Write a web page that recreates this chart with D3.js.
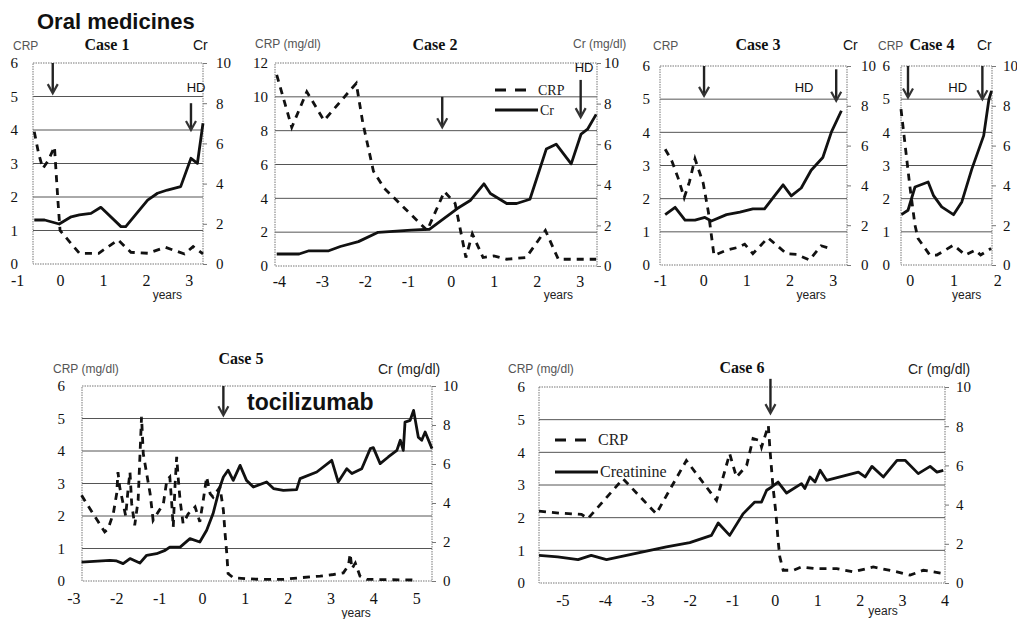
<!DOCTYPE html>
<html>
<head>
<meta charset="utf-8">
<script src="https://cdn.jsdelivr.net/npm/d3@7"></script>
<style>
  html, body { margin: 0; padding: 0; background: #fff; }
  svg { display: block; }
  .tick text { fill: #111; }
</style>
</head>
<body>
<script>
// ---- Series: [years from start of treatment, value] ----
const case1Crp = [[-0.6,3.95],[-0.5,3.3],[-0.4,2.85],[-0.27,3.1],[-0.13,3.5],[-0.1,2.9],[-0.05,1.9],[0.0,1.0],[0.45,0.32],[0.9,0.32],[1.35,0.72],[1.65,0.35],[2.05,0.32],[2.45,0.5],[2.9,0.3],[3.1,0.52],[3.33,0.3]];
const case1Cr  = [[-0.6,2.19],[-0.36,2.19],[-0.02,1.99],[0.26,2.35],[0.45,2.44],[0.72,2.52],[0.95,2.82],[1.42,1.86],[1.53,1.86],[2.04,3.18],[2.27,3.52],[2.5,3.68],[2.81,3.85],[3.05,5.26],[3.2,5.01],[3.33,7.0]];

const case2Crp = [[-4.05,11.3],[-3.7,8.2],[-3.35,10.3],[-2.95,8.6],[-2.2,10.8],[-2.05,8.5],[-1.8,5.6],[-1.55,4.6],[-0.55,2.1],[-0.15,4.4],[0.1,3.7],[0.35,0.5],[0.5,1.9],[0.75,0.5],[1.0,0.6],[1.3,0.4],[1.75,0.5],[2.2,2.1],[2.5,0.4],[3.38,0.4]];
const case2Cr  = [[-4.05,0.59],[-3.53,0.59],[-3.3,0.75],[-2.84,0.75],[-2.57,0.96],[-2.15,1.2],[-1.69,1.66],[-0.92,1.77],[-0.5,1.81],[0.15,2.83],[0.46,3.24],[0.77,4.05],[0.92,3.57],[1.3,3.08],[1.53,3.08],[1.84,3.29],[2.22,5.76],[2.45,6.0],[2.8,5.03],[3.03,6.5],[3.18,6.74],[3.38,7.47]];

const case3Crp = [[-0.88,3.49],[-0.73,3.15],[-0.58,2.62],[-0.44,2.03],[-0.32,2.5],[-0.19,3.2],[0.0,2.47],[0.12,1.6],[0.25,0.29],[0.55,0.45],[0.8,0.53],[0.96,0.63],[1.15,0.34],[1.5,0.82],[1.93,0.34],[2.16,0.32],[2.46,0.15],[2.73,0.58],[2.97,0.49]];
const case3Cr  = [[-0.88,2.53],[-0.65,2.9],[-0.42,2.26],[-0.19,2.26],[0.04,2.39],[0.19,2.21],[0.54,2.53],[0.85,2.66],[1.15,2.82],[1.42,2.82],[1.62,3.39],[1.85,4.03],[2.04,3.47],[2.27,3.87],[2.5,4.76],[2.77,5.4],[2.97,6.69],[3.2,7.75]];

const case4Crp = [[-0.2,4.7],[0.0,2.4],[0.12,1.2],[0.19,0.8],[0.46,0.3],[0.62,0.3],[1.0,0.6],[1.27,0.3],[1.5,0.45],[1.62,0.3],[1.86,0.5]];
const case4Cr  = [[-0.19,2.53],[-0.04,2.75],[0.12,3.92],[0.42,4.17],[0.54,3.5],[0.73,2.92],[1.0,2.53],[1.19,3.17],[1.42,4.83],[1.69,6.5],[1.81,8.33],[1.87,8.75]];

const case5Crp = [[-2.81,2.64],[-2.69,2.38],[-2.54,2.07],[-2.42,1.82],[-2.27,1.51],[-2.19,1.61],[-2.07,2.07],[-1.99,2.69],[-1.96,3.35],[-1.92,2.89],[-1.84,2.38],[-1.78,2.0],[-1.72,2.89],[-1.68,3.35],[-1.64,2.38],[-1.57,1.71],[-1.49,2.48],[-1.41,5.05],[-1.37,3.92],[-1.29,3.3],[-1.21,2.69],[-1.14,1.87],[-0.9,2.38],[-0.82,3.1],[-0.75,3.2],[-0.71,2.48],[-0.67,1.66],[-0.63,2.89],[-0.59,3.82],[-0.55,3.1],[-0.51,2.48],[-0.44,1.77],[-0.32,2.07],[-0.16,2.28],[-0.05,1.82],[0.03,2.48],[0.11,3.2],[0.19,2.69],[0.26,2.58],[0.34,2.74],[0.42,2.89],[0.5,2.18],[0.54,1.46],[0.58,0.84],[0.61,0.23],[0.73,0.1],[1.04,0.07],[1.36,0.05],[1.9,0.05],[2.29,0.1],[2.76,0.15],[3.07,0.2],[3.3,0.25],[3.42,0.48],[3.46,0.84],[3.5,0.38],[3.58,0.55],[3.69,0.15],[3.85,0.05],[4.94,0.03]];
const case5Cr  = [[-2.81,0.97],[-2.15,1.06],[-1.99,1.03],[-1.84,0.89],[-1.68,1.15],[-1.45,0.92],[-1.29,1.32],[-1.06,1.4],[-0.86,1.57],[-0.75,1.74],[-0.51,1.74],[-0.28,2.17],[-0.05,2.0],[0.11,2.6],[0.26,3.46],[0.42,4.82],[0.5,5.33],[0.61,5.68],[0.73,5.16],[0.89,5.93],[1.04,5.16],[1.2,4.82],[1.51,5.08],[1.67,4.74],[1.9,4.65],[2.21,4.69],[2.29,5.25],[2.68,5.59],[3.03,6.19],[3.18,5.08],[3.38,5.76],[3.5,5.51],[3.73,5.76],[3.93,6.79],[4.0,6.84],[4.16,6.02],[4.35,6.36],[4.55,6.7],[4.63,7.22],[4.7,6.7],[4.74,8.15],[4.86,8.24],[4.94,8.75],[5.05,7.38],[5.13,7.22],[5.21,7.64],[5.37,6.79]];

const case6Crp = [[-5.55,2.2],[-5.07,2.14],[-4.55,2.1],[-4.4,1.97],[-3.57,3.19],[-2.79,2.12],[-2.08,3.75],[-1.37,2.53],[-1.06,3.96],[-0.9,3.24],[-0.66,3.6],[-0.51,4.42],[-0.35,4.36],[-0.31,4.16],[-0.15,4.82],[-0.11,4.06],[-0.04,2.94],[0.03,2.12],[0.08,1.31],[0.12,0.8],[0.2,0.39],[0.44,0.39],[0.63,0.49],[0.95,0.44],[1.46,0.44],[1.85,0.34],[2.32,0.49],[2.88,0.34],[3.19,0.24],[3.5,0.39],[3.97,0.29]];
const case6Cr  = [[-5.55,1.41],[-5.11,1.33],[-4.63,1.19],[-4.32,1.41],[-3.96,1.19],[-3.49,1.41],[-3.02,1.63],[-2.55,1.84],[-2.0,2.06],[-1.49,2.43],[-1.33,3.06],[-1.06,2.43],[-0.74,3.54],[-0.47,4.13],[-0.31,4.13],[-0.19,4.73],[-0.07,4.9],[0.08,5.15],[0.28,4.59],[0.63,5.07],[0.71,4.82],[0.83,5.41],[0.95,5.15],[1.07,5.75],[1.22,5.24],[1.97,5.66],[2.13,5.41],[2.29,5.95],[2.56,5.41],[2.88,6.26],[3.07,6.26],[3.38,5.58],[3.66,5.95],[3.82,5.66],[3.97,5.75]];

// ---- Tick labels ----
const case1Years = [-1, 0, 1, 2, 3];
const case2Years = [-4, -3, -2, -1, 0, 1, 2, 3];
const case3Years = [-1, 0, 1, 2, 3];
const case4Years = [0, 1, 2];
const case5Years = [-3, -2, -1, 0, 1, 2, 3, 4, 5];
const case6Years = [-5, -4, -3, -2, -1, 0, 1, 2, 3, 4];
const crpTicks6  = [0, 1, 2, 3, 4, 5, 6];
const crpTicks12 = [0, 2, 4, 6, 8, 10, 12];
const crTicks    = [0, 2, 4, 6, 8, 10];

const SERIF = "'Liberation Serif', 'Times New Roman', Times, serif";
const SANS  = "'Liberation Sans', Arial, sans-serif";

const svg = d3.select("body").append("svg")
  .attr("width", 1017).attr("height", 619)
  .style("background", "#fff");

svg.append("text")
  .attr("x", 37).attr("y", 29)
  .style("font-family", SANS).style("font-weight", "bold")
  .style("font-size", "22px").attr("fill", "#111")
  .text("Oral medicines");

const panels = [
  { crp: case1Crp, cr: case1Cr, years: case1Years, crpTicks: crpTicks6, crpMax: 6,
    box: { l: 33, r: 203, t: 63, b: 264 }, xDomain: [-0.63, 3.33],
    lPad: 15, rPad: 9, xPad: 11,
    arrows: [[-0.17, 6.0, 5.1], [3.05, 4.8, 4.0]],
    hd: [2.95, 5.12], yearsAt: [2.5, 299] },
  { crp: case2Crp, cr: case2Cr, years: case2Years, crpTicks: crpTicks12, crpMax: 12,
    box: { l: 275, r: 597, t: 63, b: 266 }, xDomain: [-4.09, 3.4],
    lPad: 7, rPad: 3, xPad: 10,
    arrows: [[-0.2, 10.0, 8.2], [3.02, 11.0, 8.8]],
    hd: [2.88, 11.45], yearsAt: [2.5, 299] },
  { crp: case3Crp, cr: case3Cr, years: case3Years, crpTicks: crpTicks6, crpMax: 6,
    box: { l: 660, r: 847, t: 66, b: 265 }, xDomain: [-1.0, 3.33],
    lPad: 10, rPad: 10, xPad: 10,
    arrows: [[0.02, 6.0, 5.1], [3.08, 5.9, 4.95]],
    hd: [2.12, 5.22], yearsAt: [2.5, 299] },
  { crp: case4Crp, cr: case4Cr, years: case4Years, crpTicks: crpTicks6, crpMax: 6,
    box: { l: 901, r: 992, t: 66, b: 265 }, xDomain: [-0.2, 1.88],
    lPad: 11, rPad: 7, xPad: 10,
    arrows: [[-0.04, 6.0, 5.05], [1.66, 6.0, 5.0]],
    hd: [0.88, 5.22], yearsAt: [1.3, 299] },
  { crp: case5Crp, cr: case5Cr, years: case5Years, crpTicks: crpTicks6, crpMax: 6,
    box: { l: 82, r: 432, t: 386, b: 581 }, xDomain: [-2.8, 5.37],
    lPad: 17, rPad: 7, xPad: 12,
    arrows: [[0.5, 6.0, 5.1]],
    hd: null, yearsAt: [3.6, 617] },
  { crp: case6Crp, cr: case6Cr, years: case6Years, crpTicks: crpTicks6, crpMax: 6,
    box: { l: 539, r: 945, t: 387, b: 583 }, xDomain: [-5.55, 4.01],
    lPad: 14, rPad: 7, xPad: 12,
    arrows: [[-0.1, 6.25, 5.2]],
    hd: null, yearsAt: [2.55, 615] }
];

function styleTicks(sel, size) {
  sel.attr("font-family", null).attr("font-size", null);
  sel.selectAll("text")
    .style("font-family", SERIF).style("font-size", size + "px");
}

function drawPanel(p) {
  const { l, r, t, b } = p.box;
  const x = d3.scaleLinear().domain(p.xDomain).range([l, r]);
  const y = d3.scaleLinear().domain([0, p.crpMax]).range([b, t]);
  const y2 = d3.scaleLinear().domain([0, 10]).range([b, t]);
  const g = svg.append("g");

  // horizontal grid lines
  g.selectAll("line.grid")
    .data(p.crpTicks.filter(v => v > 0 && v < p.crpMax))
    .join("line").attr("class", "grid")
    .attr("x1", l).attr("x2", r)
    .attr("y1", d => y(d)).attr("y2", d => y(d))
    .attr("stroke", "#555").attr("stroke-width", 1);

  // dotted plot frame
  g.append("rect")
    .attr("x", l).attr("y", t).attr("width", r - l).attr("height", b - t)
    .attr("fill", "none").attr("stroke", "#777")
    .attr("stroke-width", 1).attr("stroke-dasharray", "1.5,1");

  // left axis (CRP)
  const la = g.append("g").attr("transform", `translate(${l},0)`)
    .call(d3.axisLeft(y).tickValues(p.crpTicks).tickSize(0).tickPadding(p.lPad).tickFormat(d => String(d)));
  la.select(".domain").remove();
  styleTicks(la, 15);

  // right axis (Cr)
  const ra = g.append("g").attr("transform", `translate(${r},0)`)
    .call(d3.axisRight(y2).tickValues(crTicks).tickSize(4).tickPadding(p.rPad).tickFormat(d => String(d)));
  ra.select(".domain").remove();
  ra.selectAll("line").attr("stroke", "#777");
  styleTicks(ra, 15);

  // bottom axis (years)
  const ba = g.append("g").attr("transform", `translate(0,${b})`)
    .call(d3.axisBottom(x).tickValues(p.years).tickSize(0).tickPadding(p.xPad).tickFormat(d => String(d)));
  ba.select(".domain").remove();
  styleTicks(ba, 16);

  g.append("text")
    .attr("x", x(p.yearsAt[0])).attr("y", p.yearsAt[1])
    .attr("text-anchor", "middle")
    .style("font-family", SANS).style("font-size", "12px").attr("fill", "#222")
    .text("years");

  const crpLine = d3.line().x(d => x(d[0])).y(d => y(d[1]));
  const crLine  = d3.line().x(d => x(d[0])).y(d => y2(d[1]));

  g.append("path").datum(p.cr)
    .attr("d", crLine).attr("fill", "none")
    .attr("stroke", "#111").attr("stroke-width", 2.8)
    .attr("stroke-linejoin", "round");

  g.append("path").datum(p.crp)
    .attr("d", crpLine).attr("fill", "none")
    .attr("stroke", "#111").attr("stroke-width", 2.8)
    .attr("stroke-dasharray", "7,6");

  // treatment / HD arrows
  p.arrows.forEach(([ax, y0, y1]) => {
    const px = x(ax), top = y(y0), bot = y(y1);
    g.append("line").attr("x1", px).attr("x2", px).attr("y1", top).attr("y2", bot - 2)
      .attr("stroke", "#222").attr("stroke-width", 2.4);
    g.append("path")
      .attr("d", `M${px - 5},${bot - 9} L${px},${bot} L${px + 5},${bot - 9}`)
      .attr("fill", "none").attr("stroke", "#333").attr("stroke-width", 2.2)
      .attr("stroke-linejoin", "miter");
  });

  if (p.hd) {
    g.append("text")
      .attr("x", x(p.hd[0])).attr("y", y(p.hd[1]))
      .style("font-family", SANS).style("font-size", "13px").attr("fill", "#111")
      .text("HD");
  }
  return { x, y, y2 };
}

panels.forEach(drawPanel);

// ---- Panel headings ----
function label(x, yPos, txt, opts = {}) {
  svg.append("text")
    .attr("x", x).attr("y", yPos)
    .attr("text-anchor", opts.anchor || "start")
    .style("font-family", opts.family || SANS)
    .style("font-weight", opts.weight || "normal")
    .style("font-size", (opts.size || 12) + "px")
    .attr("fill", opts.fill || "#111")
    .text(txt);
}
const caseStyle = { family: SERIF, weight: "bold", size: 16, anchor: "middle" };
const unitStyle = { size: 12, fill: "#555" };

label(13, 50, "CRP", unitStyle);
label(107, 50, "Case 1", caseStyle);
label(193, 50, "Cr", { size: 14 });

label(255, 48, "CRP (mg/dl)", unitStyle);
label(435, 50, "Case 2", caseStyle);
label(573, 48, "Cr (mg/dl)", unitStyle);

label(653, 50, "CRP", unitStyle);
label(758, 50, "Case 3", caseStyle);
label(843, 50, "Cr", { size: 14 });

label(878, 50, "CRP", unitStyle);
label(932, 50, "Case 4", caseStyle);
label(977, 50, "Cr", { size: 14 });

label(53, 373, "CRP (mg/dl)", unitStyle);
label(241, 364, "Case 5", caseStyle);
label(378, 374, "Cr (mg/dl)", { size: 14, fill: "#222" });

label(508, 373, "CRP (mg/dl)", unitStyle);
label(742, 373, "Case 6", caseStyle);
label(908, 374, "Cr (mg/dl)", { size: 14, fill: "#222" });

// tocilizumab note in case 5
label(247, 410, "tocilizumab", { weight: "bold", size: 23 });

// ---- Legends ----
function legend(x0, yDash, ySolid, lenDash, lenSolid, crpText, crText, size) {
  svg.append("line").attr("x1", x0).attr("x2", x0 + lenDash)
    .attr("y1", yDash).attr("y2", yDash)
    .attr("stroke", "#111").attr("stroke-width", 2.8).attr("stroke-dasharray", "11,9");
  svg.append("text").attr("x", x0 + lenDash + 10).attr("y", yDash + 5)
    .style("font-family", SERIF).style("font-size", size + "px").attr("fill", "#222").text(crpText);
  svg.append("line").attr("x1", x0).attr("x2", x0 + lenSolid)
    .attr("y1", ySolid).attr("y2", ySolid)
    .attr("stroke", "#111").attr("stroke-width", 2.8);
  svg.append("text").attr("x", x0 + lenSolid + 2).attr("y", ySolid + 5)
    .style("font-family", SERIF).style("font-size", size + "px").attr("fill", "#222").text(crText);
}
legend(495, 90, 110, 33, 43, "CRP", "Cr", 14);
legend(555, 440, 472, 33, 43, "CRP", "Creatinine", 16);
</script>
</body>
</html>
